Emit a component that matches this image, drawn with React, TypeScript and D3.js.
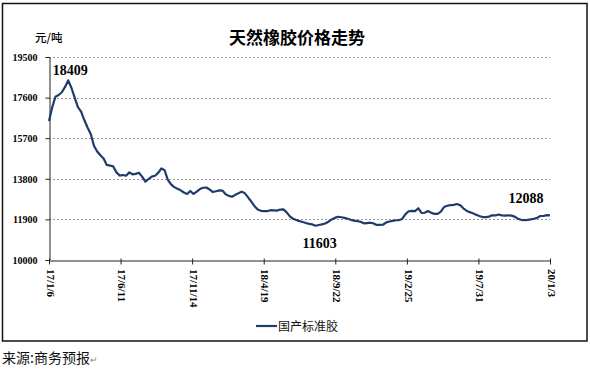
import React, { useEffect, useRef } from "react";
import * as d3 from "d3";

// weekly price of 国产标准胶, every Friday from 2017-01-06 to 2020-01-03 (元/吨)
const startDay = "2017-01-06";
const weeklyPrice = [
  16500, 17150, 17640, 17720, 17850, 18100, 18409, 18050, 17600, 17150,
  16940, 16550, 16200, 15900, 15350, 15080, 14900, 14750, 14450, 14420,
  14380, 14100, 13950, 13980, 13945, 14100, 14010, 14030, 14085, 13900,
  13670, 13790, 13900, 13945, 14080, 14290, 14200, 13750, 13540, 13410,
  13330, 13260, 13160, 13090, 13230, 13090, 13200, 13320, 13380, 13390,
  13300, 13180, 13220, 13260, 13250, 13080, 13000, 12960, 13050, 13120,
  13200, 13120, 12930, 12730, 12520, 12360, 12300, 12290, 12290, 12330,
  12320, 12310, 12360, 12370, 12230, 12040, 11930, 11875, 11820, 11780,
  11730, 11690, 11665, 11603, 11640, 11670, 11710, 11790, 11900, 11970,
  12025, 12000, 11970, 11930, 11880, 11840, 11820, 11790, 11715, 11730,
  11745, 11715, 11640, 11640, 11650, 11760, 11800, 11830, 11860, 11870,
  11920, 12150, 12280, 12300, 12290, 12420, 12200, 12210, 12290, 12215,
  12160, 12155, 12260, 12480, 12540, 12570, 12580, 12620, 12570, 12420,
  12310, 12240, 12190, 12120, 12060, 12010, 12010, 12030, 12090, 12085,
  12130, 12090, 12080, 12090, 12075, 12030, 11930, 11880, 11870, 11875,
  11900, 11930, 11970, 12060, 12060, 12100, 12088,
];
const tickLabels = ["17/1/6", "17/6/11", "17/11/14", "18/4/19", "18/9/22", "19/2/25", "19/7/31", "20/1/3"];
const yTicks = [10000, 11900, 13800, 15700, 17600, 19500];

const App = () => {
  const ref = useRef<SVGSVGElement>(null);

  useEffect(() => {
    draw();
  });

  const draw = () => {
    const svg = d3.select(ref.current);
    svg.selectAll("*").remove();

    const width = 590;
    const height = 370;
    const lineColor = "#1f3c6d";
    const serif = "'Liberation Serif', 'Times New Roman', serif";
    const cjk = "'Noto Sans CJK SC', sans-serif";

    const parseTick = d3.timeParse("%y/%m/%d");
    const tickDates = tickLabels.map((t) => parseTick(t) as Date);
    const start = d3.timeParse("%Y-%m-%d")(startDay) as Date;
    const data = weeklyPrice.map((v, i) => ({ date: d3.timeDay.offset(start, i * 7), value: v }));

    const x = d3
      .scaleTime()
      .domain([tickDates[0], tickDates[tickDates.length - 1]])
      .range([49, 550]);
    const y = d3.scaleLinear().domain([10000, 19500]).range([260, 57]);

    svg.attr("width", width).attr("height", height);

    // outer frame
    svg
      .append("rect")
      .attr("x", 2.5)
      .attr("y", 3.5)
      .attr("width", 584.5)
      .attr("height", 337.5)
      .attr("fill", "white")
      .attr("stroke", "#111")
      .attr("stroke-width", 1.5);

    // title + unit
    svg
      .append("text")
      .attr("x", 297)
      .attr("y", 44)
      .attr("text-anchor", "middle")
      .attr("font-family", cjk)
      .attr("font-weight", 700)
      .attr("font-size", 17)
      .text("天然橡胶价格走势");
    svg
      .append("text")
      .attr("x", 35)
      .attr("y", 42)
      .attr("font-family", cjk)
      .attr("font-weight", 500)
      .attr("font-size", 11.5)
      .text("元/吨");

    // gridlines
    svg
      .append("g")
      .selectAll("line")
      .data(yTicks.filter((t) => t !== 10000))
      .enter()
      .append("line")
      .attr("x1", 49)
      .attr("x2", 550)
      .attr("y1", (d) => Math.round(y(d)) + 0.5)
      .attr("y2", (d) => Math.round(y(d)) + 0.5)
      .attr("stroke", "#9a9a9a")
      .attr("stroke-dasharray", "2,2");

    // y axis
    const yAxis = svg
      .append("g")
      .attr("transform", "translate(49.5,0)")
      .call(d3.axisLeft(y).tickValues(yTicks).tickSize(4).tickPadding(8).tickFormat(d3.format("d")));
    yAxis.select(".domain").attr("stroke", "#222");
    yAxis.selectAll(".tick line").attr("stroke", "#222");
    yAxis
      .selectAll("text")
      .attr("font-family", serif)
      .attr("font-weight", "bold")
      .attr("font-size", 10)
      .attr("fill", "#000");

    // x axis
    const xAxis = svg
      .append("g")
      .attr("transform", "translate(0,260.5)")
      .call(
        d3
          .axisBottom(x)
          .tickValues(tickDates)
          .tickSizeInner(4)
          .tickSizeOuter(0)
          .tickFormat((d, i) => tickLabels[i])
      );
    xAxis.select(".domain").attr("stroke", "#222");
    xAxis.selectAll(".tick line").attr("stroke", "#222").attr("y1", -2);
    xAxis
      .selectAll("text")
      .attr("font-family", serif)
      .attr("font-weight", "bold")
      .attr("font-size", 11)
      .attr("fill", "#000")
      .attr("text-anchor", "start")
      .attr("transform", "rotate(90)")
      .attr("x", 8.5)
      .attr("y", 0)
      .attr("dy", "0.25em");

    // price line
    const line = d3
      .line<{ date: Date; value: number }>()
      .x((d) => x(d.date))
      .y((d) => y(d.value));
    svg
      .append("path")
      .datum(data)
      .attr("d", line)
      .attr("fill", "none")
      .attr("stroke", lineColor)
      .attr("stroke-width", 2.2)
      .attr("stroke-linejoin", "round");

    // callouts: max, min and latest
    const maxPt = data[d3.maxIndex(data, (d) => d.value)];
    const minPt = data[d3.minIndex(data, (d) => d.value)];
    const lastPt = data[data.length - 1];
    const callouts = [
      { p: maxPt, dx: 2, dy: -5 },
      { p: minPt, dx: 4, dy: 22 },
      { p: lastPt, dx: -24, dy: -12 },
    ];
    svg
      .append("g")
      .selectAll("text")
      .data(callouts)
      .enter()
      .append("text")
      .attr("x", (d) => x(d.p.date) + d.dx)
      .attr("y", (d) => y(d.p.value) + d.dy)
      .attr("text-anchor", "middle")
      .attr("font-family", serif)
      .attr("font-weight", "bold")
      .attr("font-size", 14)
      .text((d) => d.p.value);

    // legend
    svg
      .append("line")
      .attr("x1", 256)
      .attr("x2", 277)
      .attr("y1", 326)
      .attr("y2", 326)
      .attr("stroke", lineColor)
      .attr("stroke-width", 2.2);
    svg
      .append("text")
      .attr("x", 278)
      .attr("y", 330.5)
      .attr("font-family", cjk)
      .attr("font-size", 12)
      .attr("fill", "#111")
      .text("国产标准胶");

    // source note
    const src = svg
      .append("text")
      .attr("x", 2)
      .attr("y", 363)
      .attr("font-family", cjk)
      .attr("font-size", 14)
      .attr("fill", "#111")
      .text("来源:商务预报");
    src.append("tspan").attr("font-size", 9).attr("fill", "#888").text("↵");
  };

  return (
    <div style={{ position: "absolute", left: 0, top: 0, background: "white" }}>
      <svg ref={ref} />
    </div>
  );
};

export default App;
